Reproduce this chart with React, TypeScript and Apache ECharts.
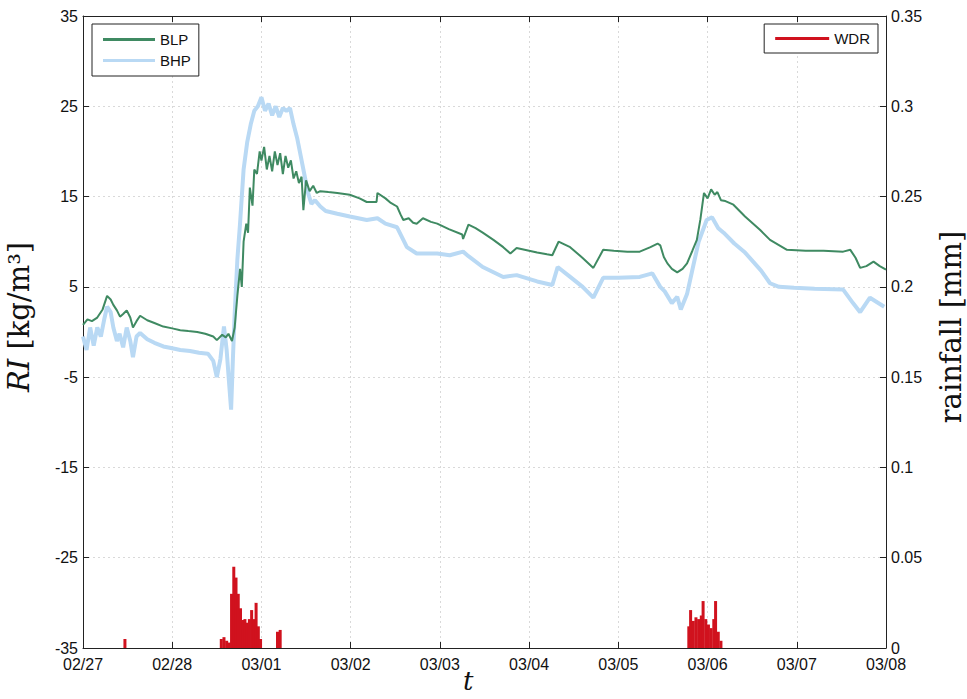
import React, { useEffect, useRef } from "react";
import * as echarts from "echarts";

// Day ticks, counted from 02/27 00:00
const dayTicks = ["02/27", "02/28", "03/01", "03/02", "03/03", "03/04", "03/05", "03/06", "03/07", "03/08"];

// RI, low-pressure band [day, kg/m³]
const blpSeries: [number, number][] = [
  [0, 0.8], [0.05, 1.4], [0.1, 1.2], [0.16, 1.6], [0.22, 2.5], [0.27, 4.0], [0.31, 3.6], [0.34, 3.0],
  [0.38, 2.4], [0.415, 1.7], [0.45, 2.0], [0.49, 2.4], [0.53, 1.6], [0.56, 0.5], [0.6, 1.2], [0.64, 1.8],
  [0.72, 1.3], [0.8, 1.0], [0.9, 0.6], [1.0, 0.4], [1.09, 0.2], [1.18, 0.1], [1.28, 0.0], [1.37, -0.2],
  [1.46, -0.5], [1.5, -0.9], [1.56, -0.3], [1.6, -0.6], [1.63, -0.2], [1.67, -1.0], [1.7, 0.5], [1.73, 4],
  [1.76, 7], [1.78, 5], [1.8, 10], [1.83, 12], [1.85, 11], [1.87, 16], [1.9, 14], [1.92, 18], [1.95, 17.5],
  [1.98, 20], [2.0, 19], [2.03, 20.5], [2.06, 18], [2.09, 19.5], [2.12, 17.8], [2.15, 20], [2.18, 18.5],
  [2.21, 19.8], [2.24, 17.5], [2.27, 19.5], [2.3, 18.2], [2.33, 19], [2.36, 17], [2.39, 17.8], [2.42, 16.5],
  [2.45, 17.2], [2.47, 13.5], [2.5, 16.8], [2.54, 15.6], [2.58, 16.2], [2.62, 15.4], [2.66, 15.6],
  [2.75, 15.5], [2.85, 15.4], [2.99, 15.2], [3.1, 14.8], [3.18, 14.4], [3.29, 14.4], [3.3, 15.4],
  [3.39, 14.8], [3.45, 14.3], [3.52, 13.9], [3.56, 13], [3.59, 12.4], [3.65, 12.6], [3.7, 12.1],
  [3.74, 12], [3.81, 12.6], [3.9, 12.2], [3.97, 12], [4.1, 11.4], [4.25, 10.8], [4.26, 10.3],
  [4.32, 11.9], [4.4, 11.5], [4.48, 11], [4.6, 10.2], [4.71, 9.4], [4.79, 8.7], [4.86, 9.3], [5.0, 9.0],
  [5.09, 8.8], [5.2, 8.6], [5.26, 8.5], [5.33, 10], [5.46, 9.4], [5.6, 8.2], [5.72, 7.1], [5.83, 9.1],
  [5.95, 9.0], [6.1, 8.9], [6.24, 8.9], [6.36, 9.4], [6.44, 9.8], [6.47, 9.6], [6.51, 8.3], [6.55, 7.6],
  [6.6, 7.0], [6.66, 6.6], [6.72, 7.0], [6.77, 7.6], [6.83, 9.0], [6.88, 10.2], [6.92, 12.5], [6.96, 15.4],
  [7.0, 14.8], [7.04, 15.8], [7.08, 15.2], [7.11, 15.5], [7.15, 14.6], [7.2, 14.5], [7.29, 14.1],
  [7.42, 12.8], [7.59, 11.3], [7.7, 10.2], [7.89, 9.1], [8.1, 9.0], [8.3, 9.0], [8.52, 8.9], [8.6, 9.1],
  [8.66, 8.2], [8.71, 7.1], [8.78, 7.3], [8.86, 7.8], [8.93, 7.3], [9.0, 6.9],
];

// RI, high-pressure band [day, kg/m³]
const bhpSeries: [number, number][] = [
  [0, -0.5], [0.04, -2], [0.08, 0.5], [0.12, -1.5], [0.16, 0.5], [0.2, -0.5], [0.24, 1.5], [0.27, 2.8],
  [0.31, 2.2], [0.34, 0.5], [0.38, -1.0], [0.41, -0.2], [0.45, -1.7], [0.49, 0.5], [0.53, -1.0],
  [0.56, -2.8], [0.6, -0.5], [0.64, -0.1], [0.72, -0.8], [0.8, -1.2], [0.9, -1.6], [1.0, -1.8],
  [1.09, -2.0], [1.2, -2.1], [1.3, -2.3], [1.4, -2.4], [1.46, -3.2], [1.5, -5.0], [1.54, -3], [1.58, 0.6],
  [1.61, -2], [1.64, -6], [1.66, -8.6], [1.68, -3], [1.7, 2], [1.73, 8], [1.76, 12], [1.8, 18], [1.84, 21],
  [1.88, 23], [1.92, 24.5], [1.96, 25], [2.0, 26], [2.04, 24.5], [2.08, 25.3], [2.12, 24], [2.16, 25],
  [2.2, 23.8], [2.24, 24.8], [2.28, 24.5], [2.32, 24.8], [2.36, 23], [2.4, 21.5], [2.44, 19.5],
  [2.48, 17.5], [2.52, 15.5], [2.56, 14.2], [2.6, 14.6], [2.66, 13.9], [2.72, 13.4], [2.85, 13.1],
  [2.99, 12.8], [3.18, 12.4], [3.3, 12.6], [3.39, 12], [3.52, 11.6], [3.59, 10.2], [3.63, 9.4],
  [3.74, 8.7], [3.97, 8.7], [4.11, 8.5], [4.26, 8.9], [4.32, 8.4], [4.48, 7.2], [4.71, 6.1], [4.86, 6.3],
  [5.09, 5.6], [5.26, 5.2], [5.32, 7.2], [5.46, 6.1], [5.6, 5.0], [5.72, 3.8], [5.83, 6.0], [6.0, 6.0],
  [6.24, 6.1], [6.38, 6.5], [6.47, 5.0], [6.52, 4.5], [6.6, 3.2], [6.66, 3.9], [6.7, 2.5], [6.77, 4.2],
  [6.83, 6.9], [6.9, 10], [6.99, 12.4], [7.05, 12.7], [7.12, 11.5], [7.18, 11], [7.3, 9.8], [7.42, 8.8],
  [7.6, 6.8], [7.7, 5.4], [7.8, 5.0], [7.97, 4.9], [8.2, 4.8], [8.52, 4.7], [8.63, 3.2], [8.71, 2.2],
  [8.82, 3.8], [8.98, 2.8],
];

// Wind-driven rain [day, mm]
const wdrSeries: [number, number][] = [
  [0.47, 0.005],
  [1.55, 0.005], [1.58, 0.006], [1.61, 0.004], [1.64, 0.003], [1.665, 0.03], [1.69, 0.045], [1.715, 0.039],
  [1.74, 0.03], [1.765, 0.022], [1.79, 0.0155], [1.815, 0.016], [1.84, 0.014], [1.865, 0.016],
  [1.89, 0.021], [1.915, 0.016], [1.94, 0.025], [1.965, 0.012], [1.99, 0.005],
  [2.18, 0.009], [2.21, 0.01],
  [6.79, 0.012], [6.81, 0.021], [6.84, 0.015], [6.87, 0.017], [6.9, 0.016], [6.93, 0.018], [6.95, 0.026],
  [6.98, 0.016], [7.01, 0.013], [7.04, 0.011], [7.07, 0.016], [7.09, 0.026], [7.12, 0.009], [7.15, 0.004],
];

const riTicks = { min: -35, max: 35, step: 10 };
const rainTicks = { min: 0, max: 0.35, step: 0.05 };

const sans = "Liberation Sans, Arial, sans-serif";
const serif = "DejaVu Serif, Liberation Serif, serif";

export default function App() {
  const ref = useRef<HTMLDivElement>(null);

  useEffect(() => {
    if (!ref.current) return;
    const chart = echarts.init(ref.current, undefined, { renderer: "svg" });
    const grid = { color: "#d9d9d9", type: [2, 3] as number[], width: 1 };
    const frame = { show: true, onZero: false, lineStyle: { color: "#222", width: 1 } };
    const ticks = { show: true, inside: true, length: 6, lineStyle: { color: "#222" } };
    chart.setOption({
      animation: false,
      backgroundColor: "#ffffff",
      grid: { left: 83, right: 81, top: 16, bottom: 51, outerBoundsMode: "none", containLabel: false },
      // time-axis title
      graphic: [
        {
          type: "text",
          left: 463,
          top: 668,
          style: { text: "t", font: `italic 26px ${serif}`, fill: "#111" },
        },
      ],
      legend: [
        {
          data: ["BLP", "BHP"],
          orient: "vertical",
          left: 92,
          top: 24,
          icon: "rect",
          itemWidth: 52,
          itemHeight: 3,
          itemGap: 6,
          padding: [8, 8, 8, 11],
          borderColor: "#222",
          borderWidth: 1,
          backgroundColor: "#fff",
          borderRadius: 0,
          textStyle: { fontFamily: sans, fontSize: 15, color: "#111" },
        },
        {
          data: ["WDR"],
          orient: "vertical",
          right: 89,
          top: 24,
          icon: "rect",
          itemWidth: 54,
          itemHeight: 3,
          padding: [7, 8, 7, 11],
          borderColor: "#222",
          borderWidth: 1,
          backgroundColor: "#fff",
          borderRadius: 0,
          textStyle: { fontFamily: sans, fontSize: 15, color: "#111" },
        },
      ],
      xAxis: [
        {
          type: "value",
          min: 0,
          max: dayTicks.length - 1,
          interval: 1,
          axisLine: frame,
          axisTick: ticks,
          axisLabel: {
            fontFamily: sans,
            fontSize: 16,
            color: "#111",
            margin: 8,
            formatter: (v: number) => dayTicks[Math.round(v)] ?? "",
          },
          splitLine: { show: true, lineStyle: grid },
        },
        {
          type: "value",
          position: "top",
          min: 0,
          max: dayTicks.length - 1,
          interval: 1,
          axisLine: frame,
          axisTick: ticks,
          axisLabel: { show: false },
          splitLine: { show: false },
        },
      ],
      yAxis: [
        {
          type: "value",
          min: riTicks.min,
          max: riTicks.max,
          interval: riTicks.step,
          name: "{i|RI} [kg/m³]",
          nameLocation: "middle",
          nameGap: 50,
          nameTextStyle: {
            fontFamily: serif,
            fontSize: 29,
            color: "#111",
            padding: [0, 0, 0, 30],
            rich: { i: { fontFamily: serif, fontStyle: "italic", fontSize: 29, color: "#111" } },
          },
          axisLine: frame,
          axisTick: ticks,
          axisLabel: { fontFamily: sans, fontSize: 16, color: "#111", margin: 5 },
          splitLine: { show: true, lineStyle: grid },
        },
        {
          type: "value",
          position: "right",
          min: rainTicks.min,
          max: rainTicks.max,
          interval: rainTicks.step,
          name: "rainfall [mm]",
          nameLocation: "middle",
          nameGap: 50,
          nameRotate: 90,
          nameTextStyle: { fontFamily: serif, fontSize: 29, color: "#111", padding: [0, 0, 0, 10] },
          axisLine: frame,
          axisTick: ticks,
          axisLabel: { fontFamily: sans, fontSize: 16, color: "#111", margin: 5 },
          splitLine: { show: false },
        },
      ],
      series: [
        {
          name: "WDR",
          type: "bar",
          xAxisIndex: 0,
          yAxisIndex: 1,
          data: wdrSeries,
          barWidth: 3,
          itemStyle: { color: "#d0121e" },
          z: 2,
        },
        {
          name: "BHP",
          type: "line",
          xAxisIndex: 0,
          yAxisIndex: 0,
          data: bhpSeries,
          showSymbol: false,
          lineStyle: { color: "#b9d9f4", width: 4 },
          itemStyle: { color: "#b9d9f4" },
          z: 3,
        },
        {
          name: "BLP",
          type: "line",
          xAxisIndex: 0,
          yAxisIndex: 0,
          data: blpSeries,
          showSymbol: false,
          lineStyle: { color: "#3f8a62", width: 2 },
          itemStyle: { color: "#3f8a62" },
          z: 4,
        },
      ],
    });
    return () => chart.dispose();
  }, []);

  return <div ref={ref} style={{ width: 967, height: 699, position: "absolute", left: 0, top: 0 }} />;
}
